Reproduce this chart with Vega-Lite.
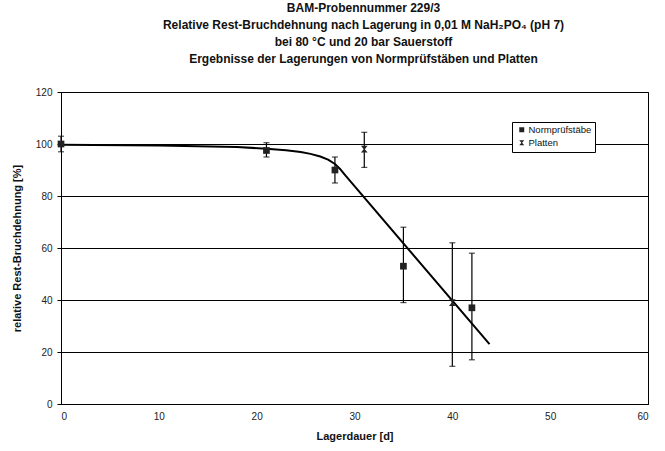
{
  "$schema": "https://vega.github.io/schema/vega-lite/v6.json",
  "width": 587,
  "height": 312,
  "autosize": "none",
  "padding": {"left": 61, "top": 92, "right": 17, "bottom": 47},
  "background": "white",
  "config": {
    "font": "Liberation Sans",
    "view": {"stroke": "black", "strokeWidth": 1},
    "axis": {"labelFont": "Liberation Sans", "titleFont": "Liberation Sans", "labelColor": "#222", "titleColor": "#111", "labelFontSize": 10, "titleFontSize": 11, "titleFontWeight": "bold", "domainColor": "black", "tickColor": "black"}
  },
  "title": {
    "text": ["BAM-Probennummer 229/3", "Relative Rest-Bruchdehnung nach Lagerung in 0,01 M NaH₂PO₄ (pH 7)", "bei 80 °C und 20 bar Sauerstoff", "Ergebnisse der Lagerungen von Normprüfstäben und Platten"],
    "anchor": "middle",
    "frame": "group",
    "dx": 9,
    "offset": 21,
    "fontSize": 12,
    "fontWeight": "bold",
    "lineHeight": 17,
    "color": "#111"
  },
  "datasets": {
    "pts": [
      {"tage": 0, "wert": 100, "lo": 97, "hi": 103, "serie": "Normprüfstäbe"},
      {"tage": 21, "wert": 97.5, "lo": 95, "hi": 100.5, "serie": "Normprüfstäbe"},
      {"tage": 28, "wert": 90, "lo": 85, "hi": 95, "serie": "Normprüfstäbe"},
      {"tage": 35, "wert": 53, "lo": 39, "hi": 68, "serie": "Normprüfstäbe"},
      {"tage": 42, "wert": 37, "lo": 17, "hi": 58, "serie": "Normprüfstäbe"},
      {"tage": 31, "wert": 98, "lo": 91, "hi": 104.5, "serie": "Platten"},
      {"tage": 40, "wert": 39, "lo": 14.5, "hi": 62, "serie": "Platten"}
    ],
    "fit": [
      {"tage": 0, "wert": 99.7},
      {"tage": 10, "wert": 99.4},
      {"tage": 18, "wert": 98.8},
      {"tage": 21, "wert": 98.2},
      {"tage": 23, "wert": 97.6},
      {"tage": 24.5, "wert": 96.9},
      {"tage": 25.5, "wert": 96.2},
      {"tage": 26.5, "wert": 95.2},
      {"tage": 27.3, "wert": 94},
      {"tage": 28, "wert": 92.3},
      {"tage": 28.5, "wert": 90.5},
      {"tage": 29, "wert": 88.2},
      {"tage": 29.5, "wert": 86},
      {"tage": 43.8, "wert": 23}
    ]
  },
  "encoding": {
    "x": {"field": "tage", "type": "quantitative", "scale": {"domain": [0, 60], "nice": false}, "axis": {"title": "Lagerdauer [d]", "values": [0, 10, 20, 30, 40, 50, 60], "grid": false, "ticks": false, "labelPadding": 7, "titlePadding": 9}},
    "y": {"field": "wert", "type": "quantitative", "scale": {"domain": [0, 120], "nice": false}, "axis": {"title": "relative Rest-Bruchdehnung [%]", "values": [0, 20, 40, 60, 80, 100, 120], "grid": true, "gridColor": "black", "gridOpacity": 1, "tickSize": 4, "labelPadding": 5, "titlePadding": 13}}
  },
  "layer": [
    {
      "data": {"name": "fit"},
      "mark": {"type": "line", "interpolate": "linear", "color": "black", "strokeWidth": 2, "strokeJoin": "round"}
    },
    {
      "data": {"name": "pts"},
      "mark": {"type": "rule", "color": "black", "strokeWidth": 1.2},
      "encoding": {"y": {"field": "lo", "type": "quantitative"}, "y2": {"field": "hi"}}
    },
    {
      "data": {"name": "pts"},
      "mark": {"type": "tick", "orient": "horizontal", "color": "black", "size": 6, "thickness": 1.2},
      "encoding": {"y": {"field": "lo", "type": "quantitative"}}
    },
    {
      "data": {"name": "pts"},
      "mark": {"type": "tick", "orient": "horizontal", "color": "black", "size": 6, "thickness": 1.2},
      "encoding": {"y": {"field": "hi", "type": "quantitative"}}
    },
    {
      "data": {"name": "pts"},
      "mark": {"type": "point", "filled": true, "color": "#222", "opacity": 1, "size": 45, "strokeWidth": 1},
      "encoding": {
        "shape": {"field": "serie", "type": "nominal", "scale": {"domain": ["Normprüfstäbe", "Platten"], "range": ["square", "M-1,-1L1,-1L0.15,0L1,1L-1,1L-0.15,0Z"]},
          "legend": {"title": null, "orient": "none", "legendX": 451, "legendY": 30, "strokeColor": "black", "fillColor": "white", "padding": 3, "labelFontSize": 9.5, "labelFont": "Liberation Sans", "labelColor": "#111", "symbolSize": 25, "symbolFillColor": "#222", "symbolStrokeColor": "#222", "rowPadding": 1, "labelOffset": 2, "symbolOffset": 2}}
      }
    }
  ]
}
